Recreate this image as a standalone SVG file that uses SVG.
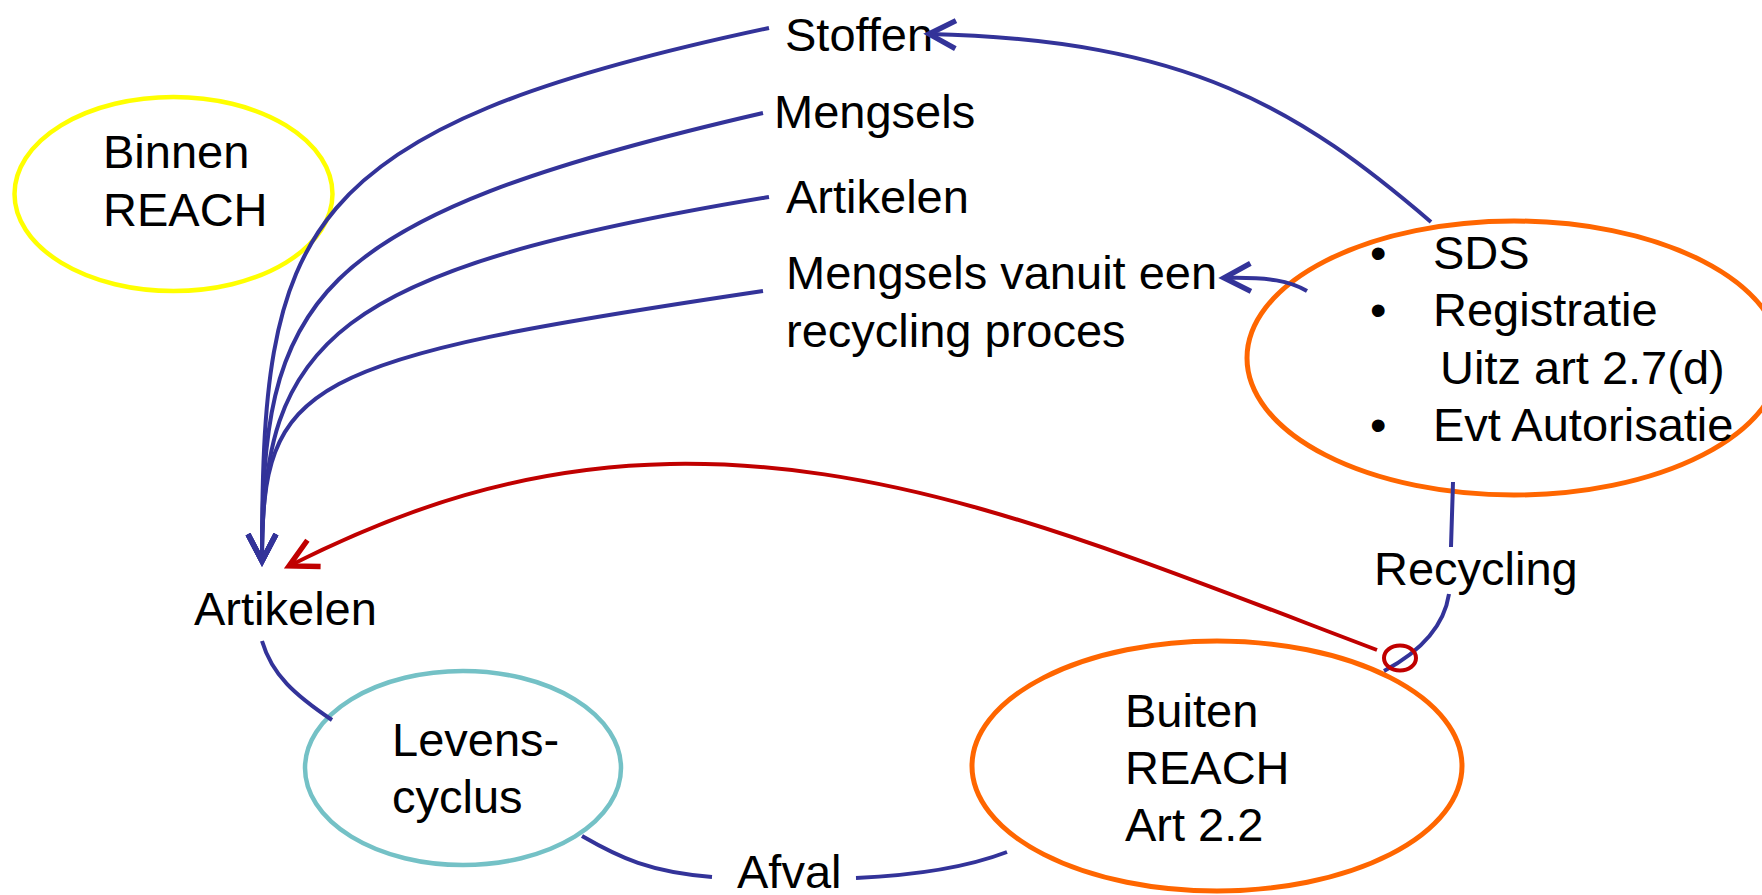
<svg xmlns="http://www.w3.org/2000/svg" width="1762" height="895" viewBox="0 0 1762 895">
<defs>
<style>
text{font-family:"Liberation Sans",Arial,sans-serif;font-size:47px;fill:#000}
.blue{fill:none;stroke:#333399;stroke-width:4;stroke-linecap:butt}
.red{fill:none;stroke:#C00000;stroke-width:4}
.ell{fill:none}
</style>
<marker id="ab" markerUnits="userSpaceOnUse" markerWidth="40" markerHeight="40" viewBox="-25 -15 30 30" refX="0" refY="0" orient="auto" overflow="visible">
<path d="M-20,-10.5 L0,0 L-20,10.5" fill="none" stroke="#333399" stroke-width="4" stroke-linejoin="miter"/>
</marker>
<marker id="ar" markerUnits="userSpaceOnUse" markerWidth="40" markerHeight="40" viewBox="-25 -15 30 30" refX="0" refY="0" orient="auto" overflow="visible">
<path d="M-21,-11 L0,0 L-21,11" fill="none" stroke="#C00000" stroke-width="4"/>
</marker>
</defs>
<rect width="1762" height="895" fill="#fff"/>

<g id="binnen">
<ellipse class="ell" cx="173.5" cy="194" rx="159" ry="97" stroke="#FFFF00" stroke-width="4.5"/>
<text x="103" y="168">Binnen</text>
<text x="103" y="226">REACH</text>
</g>

<g id="stoffen"><text x="785" y="51">Stoffen</text></g>
<g id="mengsels"><text x="774" y="128">Mengsels</text></g>
<g id="artikelen-top"><text x="786" y="213">Artikelen</text></g>
<g id="mengsels-recycling">
<text x="786" y="289">Mengsels vanuit een</text>
<text x="786" y="347">recycling proces</text>
</g>

<g id="sds">
<ellipse class="ell" cx="1514" cy="358" rx="267" ry="137" stroke="#FF6600" stroke-width="5"/>
<text x="1370" y="269">•</text><text x="1433" y="269">SDS</text>
<text x="1370" y="326">•</text><text x="1433" y="326">Registratie</text>
<text x="1440" y="384">Uitz art 2.7(d)</text>
<text x="1370" y="441">•</text><text x="1433" y="441">Evt Autorisatie</text>
</g>

<g id="recycling"><text x="1374" y="585">Recycling</text></g>
<g id="artikelen-bottom"><text x="194" y="625">Artikelen</text></g>

<g id="levenscyclus">
<ellipse class="ell" cx="463" cy="768" rx="158" ry="97" stroke="#74C1C6" stroke-width="4.5"/>
<text x="392" y="756">Levens-</text>
<text x="392" y="813">cyclus</text>
</g>

<g id="buiten">
<ellipse class="ell" cx="1217" cy="766" rx="245" ry="125" stroke="#FF6600" stroke-width="5"/>
<text x="1125" y="727">Buiten</text>
<text x="1125" y="784">REACH</text>
<text x="1125" y="841">Art 2.2</text>
</g>

<g id="afval"><text x="737" y="888">Afval</text></g>

<g id="connectors">
<path class="blue" d="M769,28 C290,130 262,230 262,561" marker-end="url(#ab)"/>
<path class="blue" d="M763,113 C300,220 262,300 262,561" marker-end="url(#ab)"/>
<path class="blue" d="M769,197 C330,270 262,340 262,561" marker-end="url(#ab)"/>
<path class="blue" d="M763,291 C300,360 262,380 262,561" marker-end="url(#ab)"/>
<path class="blue" d="M1431,222 C1300,110 1190,40 929,34" marker-end="url(#ab)"/>
<path class="blue" d="M1307,291 C1290,281 1270,277 1224,278" marker-end="url(#ab)"/>
<path class="blue" d="M1453,482 L1451,547"/>
<path class="blue" d="M1449,594 Q1442,640 1384,671"/>
<path class="blue" d="M262,641 C272,675 295,695 332,720"/>
<path class="blue" d="M582,836 C620,858 650,872 712,877"/>
<path class="blue" d="M856,878 C900,876 960,870 1007,852"/>
<path class="red" d="M1377,650 C1100,545 900,460 670,464 C520,467 400,510 289,566" marker-end="url(#ar)"/>
<ellipse cx="1400" cy="658" rx="16" ry="12.5" fill="none" stroke="#C00000" stroke-width="4"/>
</g>
</svg>
